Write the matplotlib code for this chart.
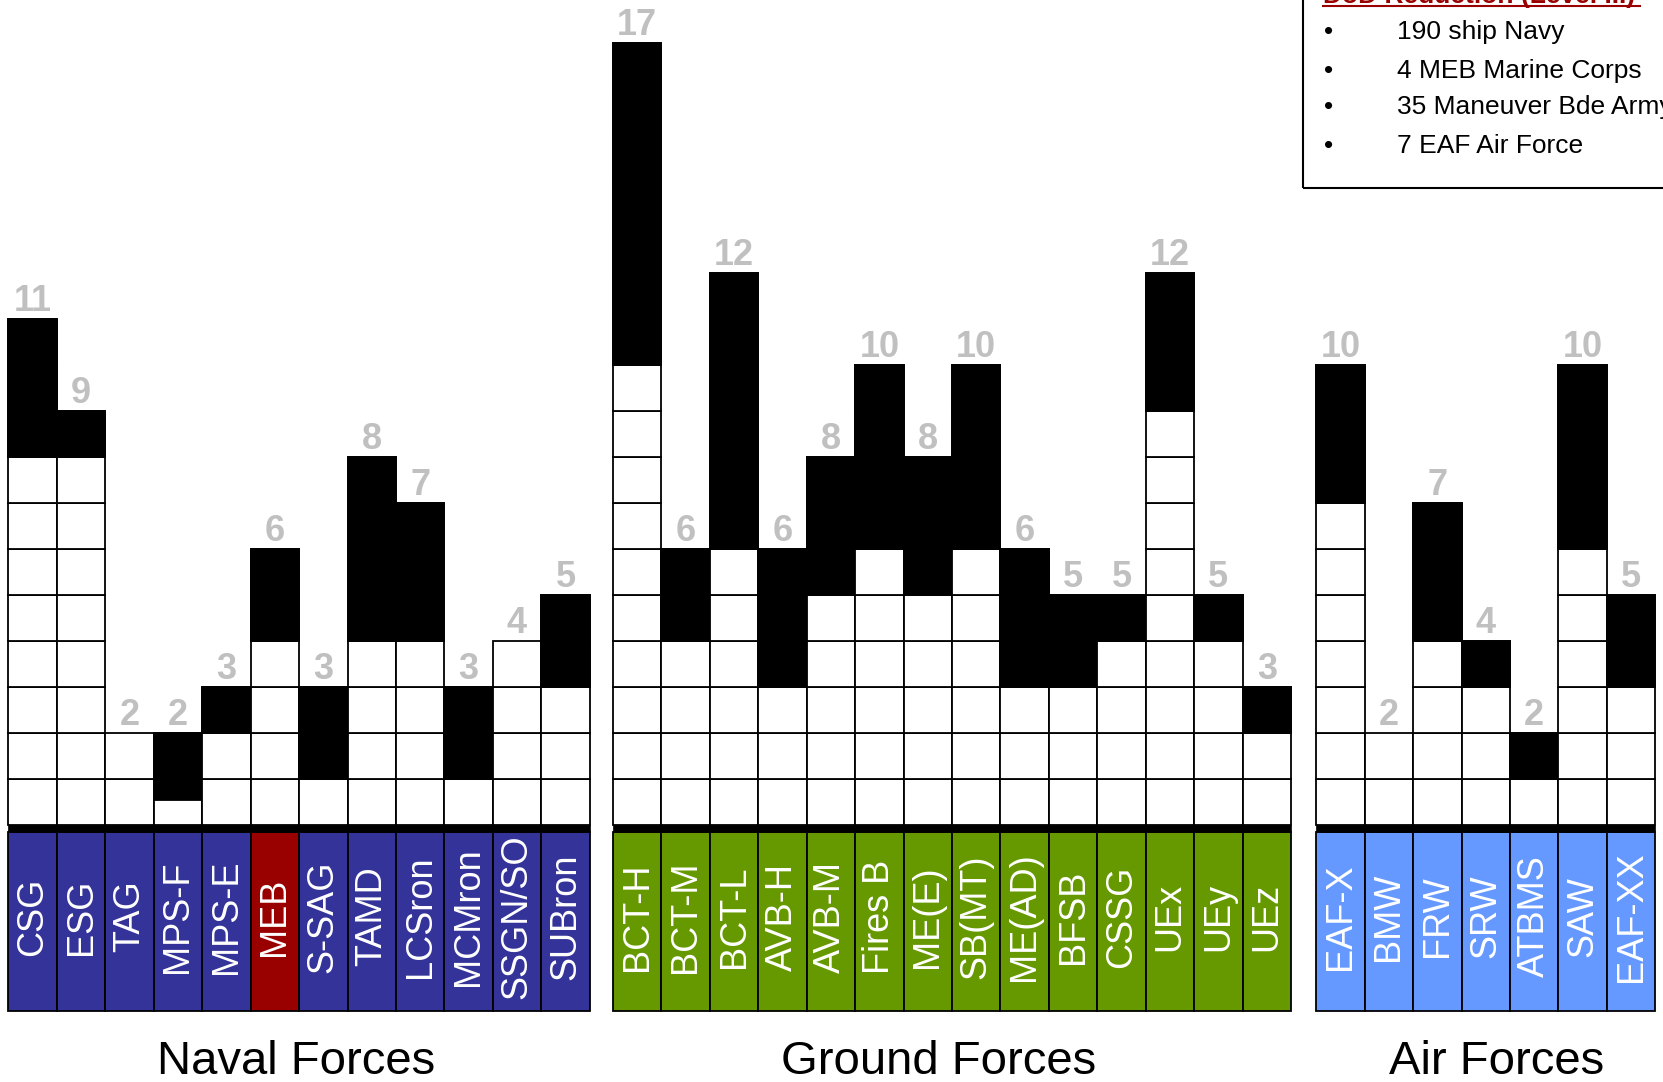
import matplotlib
matplotlib.use("Agg")
import matplotlib.pyplot as plt
from matplotlib.patches import Rectangle

# 1. Donnees : unites par composante, total et tranche reduite (noire)
naval_units = ['CSG', 'ESG', 'TAG', 'MPS-F', 'MPS-E', 'MEB', 'S-SAG', 'TAMD',
               'LCSron', 'MCMron', 'SSGN/SO', 'SUBron']
naval_total = [11, 9, 2, 2, 3, 6, 3, 8, 7, 3, 4, 5]
naval_cut_from = [8, 8, 2, 0.55, 2, 4, 1, 4, 4, 1, 4, 3]

ground_units = ['BCT-H', 'BCT-M', 'BCT-L', 'AVB-H', 'AVB-M', 'Fires B', 'ME(E)',
                'SB(MT)', 'ME(AD)', 'BFSB', 'CSSG', 'UEx', 'UEy', 'UEz']
ground_total = [17, 6, 12, 6, 8, 10, 8, 10, 6, 5, 5, 12, 5, 3]
ground_cut_from = [10, 4, 6, 3, 5, 6, 5, 6, 3, 3, 4, 9, 4, 2]

air_units = ['EAF-X', 'BMW', 'FRW', 'SRW', 'ATBMS', 'SAW', 'EAF-XX']
air_total = [10, 2, 7, 4, 2, 10, 5]
air_cut_from = [7, 2, 4, 3, 1, 6, 3]

group_names = ['Naval Forces', 'Ground Forces', 'Air Forces']
legend_title = 'DoD Reduction (Level III)'
legend_lines = ['190 ship Navy', '4 MEB Marine Corps',
                '35 Maneuver Bde Army', '7 EAF Air Force']

# 2. Mise en page
groups = [
    (naval_units, naval_total, naval_cut_from, 0.0, '#333399'),
    (ground_units, ground_total, ground_cut_from, 12.48, '#669900'),
    (air_units, air_total, air_cut_from, 27.0, '#6699FF'),
]
group_title_x = [5.94, 19.2, 30.72]
special_colors = {'MEB': '#990000'}

fig = plt.figure(figsize=(16.63, 10.82), dpi=100)
ax = fig.add_axes([0, 0, 1, 1])
ax.set_xlim(-0.175, 34.16)
ax.set_ylim(-5.59, 17.93)
ax.axis('off')

lw = 1.3
box_bottom = -4.04
bar_h = 0.15

# 3. Dessiner les colonnes
for (units, totals, cuts, x0, color), tx, gname in zip(groups, group_title_x, group_names):
    n = len(units)
    for i, (name, tot, cut) in enumerate(zip(units, totals, cuts)):
        x = x0 + i
        for k in range(tot):
            ax.add_patch(Rectangle((x, k), 1, 1, facecolor='white',
                                   edgecolor='black', lw=lw))
        if tot > cut:
            ax.add_patch(Rectangle((x, cut), 1, tot - cut, facecolor='black',
                                   edgecolor='black', lw=lw))
        ax.text(x + 0.5, tot + 0.17, str(tot), ha='center', va='baseline',
                fontsize=26, fontweight='bold', color='#c0c0c0',
                family='Liberation Sans')
        # etiquette verticale
        ax.add_patch(Rectangle((x, box_bottom), 1, -bar_h - box_bottom,
                               facecolor=special_colors.get(name, color),
                               edgecolor='black', lw=lw))
        ax.text(x + 0.5, (box_bottom - bar_h) / 2 + 0.1, name, rotation=90,
                ha='center', va='center', fontsize=26, color='white',
                family='Liberation Sans')
    ax.add_patch(Rectangle((x0, -bar_h), n, bar_h, facecolor='black',
                           edgecolor='black', lw=0.5))
    ax.text(tx, -5.42, gname, ha='center', va='baseline', fontsize=34,
            family='Liberation Sans')

# 4. Encadre de legende en haut a droite
ax.add_patch(Rectangle((26.72, 13.85), 10, 10, fill=False, edgecolor='black', lw=1.5))
ax.text(27.14, 17.86, legend_title, ha='left', va='baseline', fontsize=19,
        fontweight='bold', color='#990000', family='Liberation Sans')
ax.plot([27.14, 33.68], [17.80, 17.80], color='#990000', lw=1.5)
line_y = [17.24, 16.39, 15.61, 14.76]
for y, txt in zip(line_y, legend_lines):
    ax.text(27.26, y, '\u2022', ha='center', va='center', fontsize=19,
            family='Liberation Sans')
    ax.text(28.66, y, txt, ha='left', va='center', fontsize=19,
            family='Liberation Sans')

fig.savefig('out.png', dpi=100)
